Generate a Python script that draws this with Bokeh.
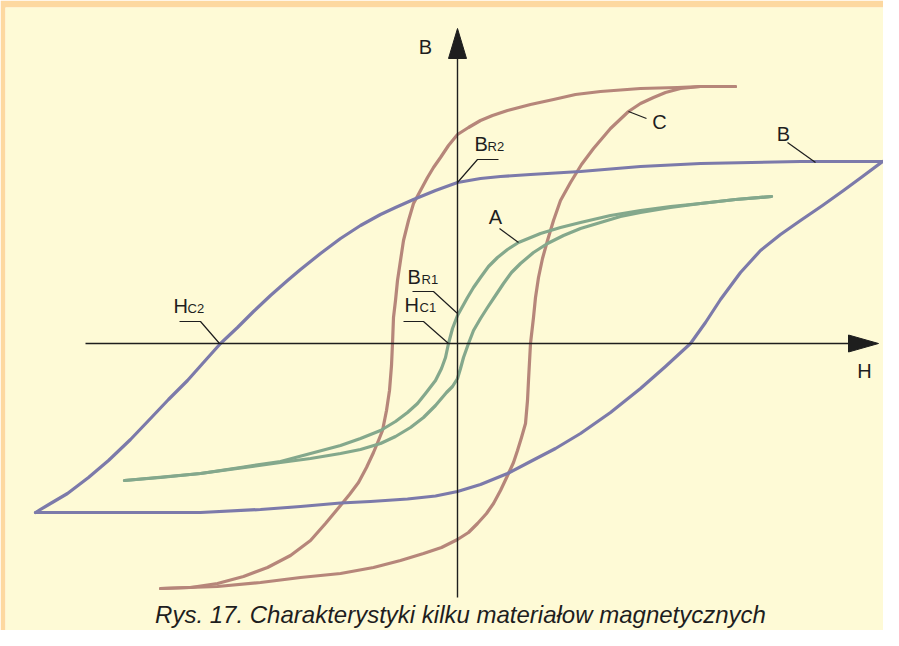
from bokeh.plotting import figure
from bokeh.models import Range1d, Label
from bokeh.embed import file_html
from bokeh.resources import INLINE

# ---------------- data (H, B) ----------------
# Material B (wide loop) - descending branch (from +saturation to -saturation)
b_desc_h = [4.25, 3.43, 2.43, 1.83, 1.23, 0.73, 0.43, 0.23, 0.00, -0.22, -0.44, -0.62, -0.77, -0.97, -1.17,
            -1.37, -1.57, -1.70, -1.87, -2.04, -2.20, -2.37, -2.54, -2.70, -2.89, -3.07, -3.27, -3.49,
            -3.69, -3.90, -4.07, -4.22]
b_desc_b = [1.82, 1.82, 1.80, 1.77, 1.72, 1.69, 1.67, 1.65, 1.61, 1.53, 1.44, 1.36, 1.29, 1.18, 1.05,
            0.90, 0.74, 0.63, 0.48, 0.32, 0.16, 0.00, -0.19, -0.37, -0.56, -0.75, -0.96, -1.17,
            -1.34, -1.50, -1.60, -1.69]
# Material B - ascending branch
b_asc_h = [-4.22, -3.07, -2.57, -1.97, -1.57, -1.17, -0.87, -0.50, -0.22, 0.00, 0.23, 0.50, 0.73, 0.98, 1.23,
           1.53, 1.83, 2.08, 2.33, 2.48, 2.63, 2.83, 3.03, 3.23, 3.43, 3.65, 3.86, 4.05, 4.25]
b_asc_b = [-1.69, -1.69, -1.69, -1.66, -1.63, -1.595, -1.58, -1.555, -1.525, -1.48, -1.41, -1.30, -1.18, -1.05,
           -0.90, -0.69, -0.45, -0.23, 0.00, 0.21, 0.44, 0.71, 0.93, 1.09, 1.23, 1.38, 1.53, 1.67, 1.82]

# Material A (narrow loop)
a_desc_h = [3.14, 2.78, 2.43, 2.13, 1.83, 1.53, 1.23, 1.03, 0.83, 0.61, 0.50, 0.40, 0.31, 0.23, 0.16, 0.10,
            0.05, 0.00, -0.05, -0.09, -0.12, -0.16, -0.22, -0.32, -0.40, -0.50, -0.62, -0.77, -0.97,
            -1.17, -1.47, -1.77, -2.17, -2.57, -2.97, -3.33]
a_desc_b = [1.47, 1.44, 1.40, 1.37, 1.33, 1.28, 1.21, 1.16, 1.10, 1.01, 0.94, 0.86, 0.77, 0.66, 0.56, 0.46,
            0.37, 0.28, 0.15, 0.00, -0.14, -0.25, -0.37, -0.50, -0.60, -0.69, -0.78, -0.87, -0.95,
            -1.02, -1.10, -1.18, -1.24, -1.30, -1.34, -1.37]
a_asc_h = [-3.33, -2.57, -1.77, -1.47, -1.17, -0.97, -0.77, -0.62, -0.47, -0.34, -0.22, -0.11, -0.05, 0.00,
           0.03, 0.06, 0.11, 0.16, 0.23, 0.30, 0.38, 0.46, 0.54, 0.63, 0.76, 0.90, 1.06, 1.23, 1.43,
           1.63, 1.83, 2.13, 2.43, 2.78, 3.14]
a_asc_b = [-1.37, -1.30, -1.19, -1.15, -1.10, -1.06, -1.00, -0.93, -0.84, -0.74, -0.62, -0.49, -0.43, -0.35,
           -0.25, -0.14, 0.00, 0.13, 0.25, 0.36, 0.48, 0.60, 0.71, 0.80, 0.91, 1.00, 1.08, 1.15, 1.21,
           1.27, 1.31, 1.36, 1.40, 1.44, 1.47]

# Material C (high remanence loop)
c_desc_h = [2.78, 2.43, 2.20, 1.83, 1.43, 1.18, 0.96, 0.73, 0.50, 0.35, 0.23, 0.11, 0.00, -0.09, -0.17,
            -0.24, -0.30, -0.37, -0.44, -0.49, -0.54, -0.57, -0.60, -0.62, -0.64, -0.65, -0.66, -0.68,
            -0.71, -0.75, -0.79, -0.84, -0.91, -0.99, -1.08, -1.17, -1.32, -1.47, -1.67, -1.90, -2.14,
            -2.40, -2.67, -2.97]
c_desc_b = [2.57, 2.57, 2.56, 2.55, 2.52, 2.49, 2.44, 2.39, 2.33, 2.28, 2.23, 2.16, 2.09, 1.98, 1.86,
            1.76, 1.66, 1.53, 1.40, 1.23, 1.03, 0.83, 0.63, 0.43, 0.26, 0.00, -0.22, -0.47,
            -0.67, -0.87, -0.97, -1.09, -1.24, -1.39, -1.51, -1.62, -1.80, -1.97, -2.12, -2.24, -2.33,
            -2.40, -2.44, -2.45]
c_asc_h = [-2.97, -2.40, -1.97, -1.57, -1.17, -0.84, -0.57, -0.34, -0.16, 0.00, 0.11, 0.20, 0.29, 0.36,
           0.43, 0.51, 0.56, 0.60, 0.64, 0.68, 0.70, 0.71, 0.73, 0.76, 0.78, 0.81, 0.85, 0.90, 0.96,
           1.03, 1.13, 1.24, 1.36, 1.53, 1.71, 1.83, 1.96, 2.08, 2.23, 2.43, 2.78]
c_asc_b = [-2.45, -2.43, -2.39, -2.34, -2.30, -2.24, -2.17, -2.10, -2.04, -1.96, -1.89, -1.80, -1.70, -1.60,
           -1.47, -1.30, -1.19, -1.07, -0.94, -0.80, -0.57, -0.37, 0.00, 0.26, 0.46, 0.66, 0.85, 1.03, 1.23,
           1.43, 1.61, 1.79, 1.95, 2.15, 2.32, 2.40, 2.46, 2.51, 2.55, 2.57, 2.57]

# axis extents
h_axis = [-3.72, 3.91]   # H axis line (B = 0)
h_tip = 4.21
b_axis = [-2.54, 2.85]   # B axis line (H = 0)
b_tip = 3.15

# labels (x, y of the bottom of the text box)
labels_main = [("B", -0.32, 2.86), ("H", 4.07, -0.38), ("B", 3.26, 1.99), ("A", 0.38, 1.16), ("C", 2.02, 2.11)]
labels_sub = [("B", "R2", 0.17, 0.30, 1.89, 1.90), ("B", "R1", -0.50, -0.36, 0.56, 0.57),
              ("H", "C1", -0.53, -0.38, 0.28, 0.29), ("H", "C2", -2.84, -2.70, 0.27, 0.28)]
leaders_x = [[3.30, 3.58], [0.41, 0.20, 0.00], [0.42, 0.61], [-0.45, -0.24, 0.00],
             [-0.54, -0.34, -0.09], [-2.78, -2.57, -2.38], [1.89, 1.71]]
leaders_y = [[2.01, 1.81], [1.84, 1.84, 1.61], [1.15, 1.01], [0.52, 0.52, 0.30],
             [0.22, 0.22, 0.00], [0.22, 0.22, 0.00], [2.25, 2.32]]
caption = "Rys. 17. Charakterystyki kilku materiałow magnetycznych"

# ---------------- styles ----------------
CREAM = "#FEFAD6"
ORANGE = "#FDD8A0"
PURPLE = "#7C7AAA"
GREEN = "#84A88C"
BROWN = "#B6867A"
INK = "#1E1E1E"
FONT = "'Liberation Sans Narrow', 'Liberation Sans', Arial, sans-serif"

p = figure(width=883, height=630, output_backend="svg", toolbar_location=None,
           x_range=Range1d(-4.52, 4.26), y_range=Range1d(-2.87, 3.36),
           x_axis_type=None, y_axis_type=None,
           min_border_top=7, min_border_left=5, min_border_right=0, min_border_bottom=0,
           background_fill_color=CREAM, border_fill_color=ORANGE, outline_line_color=None)
p.grid.visible = False

lw = 3.2
for hx, by, col in [(c_desc_h, c_desc_b, BROWN), (c_asc_h, c_asc_b, BROWN),
                    (a_desc_h, a_desc_b, GREEN), (a_asc_h, a_asc_b, GREEN),
                    (b_desc_h, b_desc_b, PURPLE), (b_asc_h, b_asc_b, PURPLE)]:
    p.line(hx, by, line_width=lw, color=col, line_join="round", line_cap="round")

# axes
p.line(h_axis, [0, 0], line_width=1.4, color=INK)
p.line([0, 0], b_axis, line_width=1.4, color=INK)
p.patch([h_axis[1], h_tip, h_axis[1]], [0.085, 0, -0.085], color=INK)
p.patch([-0.09, 0, 0.09], [b_axis[1], b_tip, b_axis[1]], color=INK)

# leaders
p.multi_line(leaders_x, leaders_y, line_width=1.2, color=INK)

for t, x, y in labels_main:
    p.add_layout(Label(x=x, y=y, text=t, text_align="center", text_baseline="bottom",
                       text_font=FONT, text_font_size="20px", text_color=INK))
for big, small, x1, x2, y1, y2 in labels_sub:
    p.add_layout(Label(x=x1, y=y1, text=big, text_align="left", text_baseline="bottom",
                       text_font=FONT, text_font_size="20px", text_color=INK))
    p.add_layout(Label(x=x2, y=y2, text=small, text_align="left", text_baseline="bottom",
                       text_font=FONT, text_font_size="13px", text_color=INK))

p.add_layout(Label(x=0.03, y=-2.84, text=caption, text_align="center", text_baseline="bottom",
                   text_font=FONT, text_font_size="24px", text_font_style="italic", text_color=INK))

open("out.html", "w").write(file_html(p, INLINE))
